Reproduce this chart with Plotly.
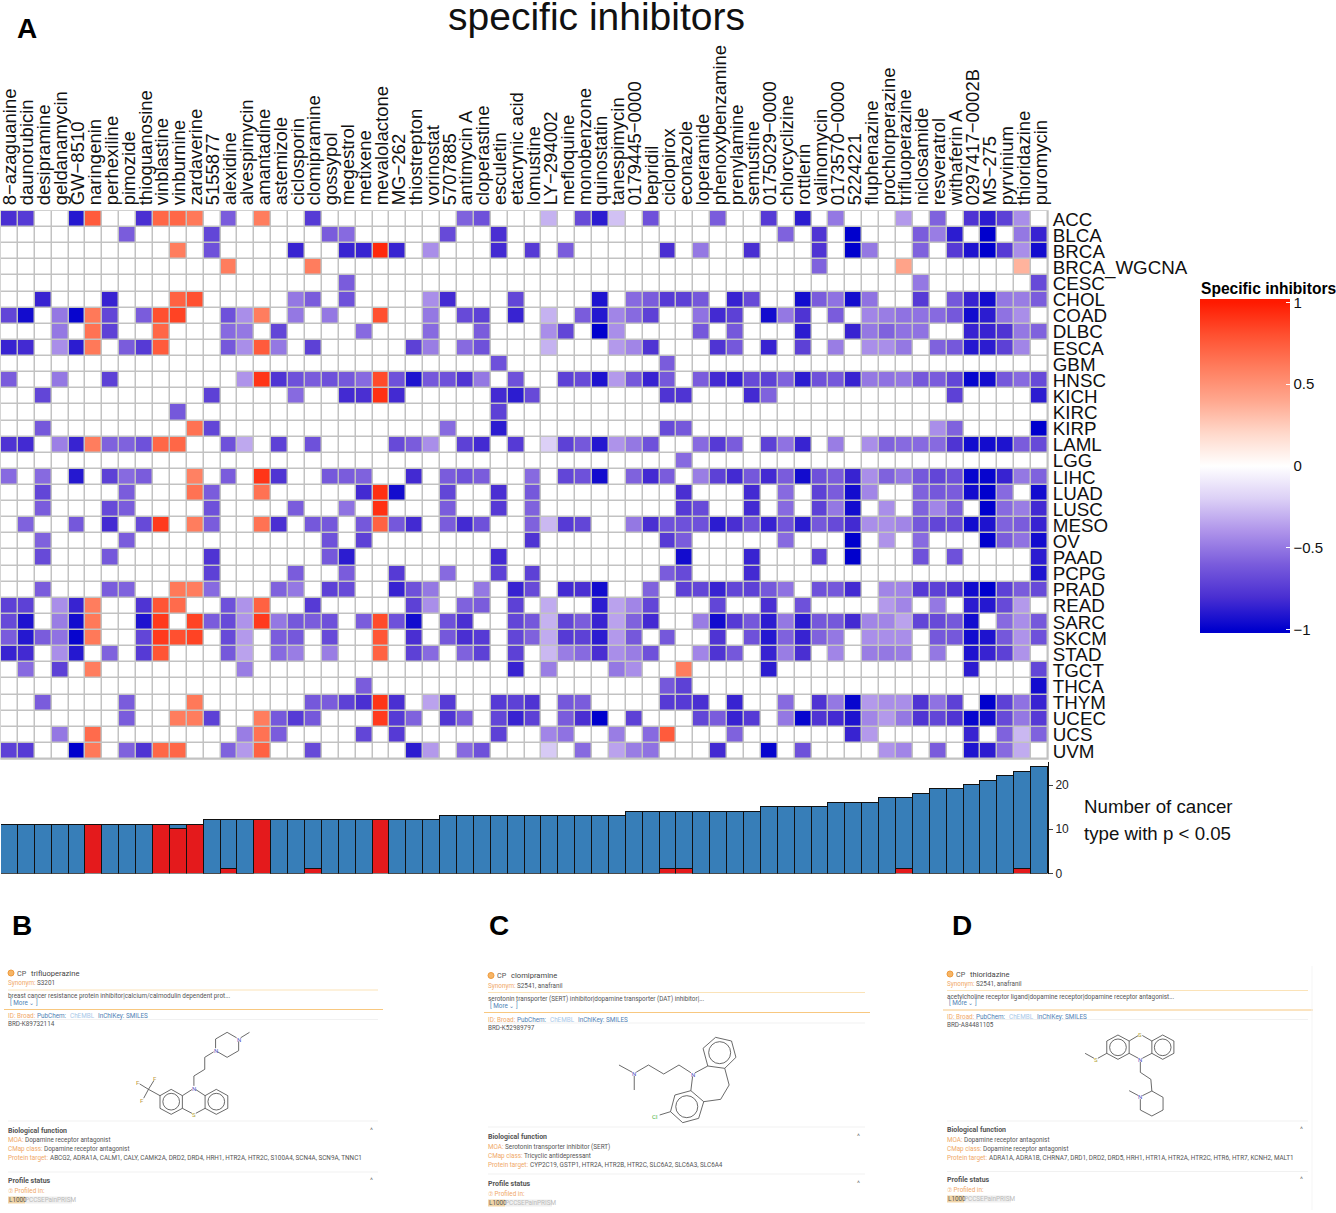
import plotly.graph_objects as go

W, H = 1336, 1213

DRUGS = ["8−azaguanine","daunorubicin","desipramine","geldanamycin","GW−8510","naringenin","perhexiline","pimozide",
"thioguanosine","vinblastine","vinburnine","zardaverine","5155877","alexidine","alvespimycin","amantadine","astemizole",
"ciclosporin","clomipramine","gossypol","megestrol","metixene","mevalolactone","MG−262","thiostrepton","vorinostat",
"5707885","antimycin A","cloperastine","esculetin","etacrynic acid","lomustine","LY−294002","mefloquine","monobenzone",
"quinostatin","tanespimycin","0179445−0000","bepridil","ciclopirox","econazole","loperamide","phenoxybenzamine",
"prenylamine","semustine","0175029−0000","chlorcyclizine","rottlerin","valinomycin","0173570−0000","5224221",
"fluphenazine","prochlorperazine","trifluoperazine","niclosamide","resveratrol","withaferin A","0297417−0002B","MS−275",
"pyrvinium","thioridazine","puromycin"]

CANCERS = ["ACC","BLCA","BRCA","BRCA_WGCNA","CESC","CHOL","COAD","DLBC","ESCA","GBM","HNSC","KICH","KIRC","KIRP","LAML",
"LGG","LIHC","LUAD","LUSC","MESO","OV","PAAD","PCPG","PRAD","READ","SARC","SKCM","STAD","TGCT","THCA","THYM","UCEC","UCS","UVM"]

# correlation per cancer: {drug index: value}; every other cell is blank (not significant)
ACC = {0:-.8,1:-.75,4:-.9,5:.75,8:-.8,9:.7,10:.7,11:.62,13:-.6,15:.6,18:-.75,27:-.58,28:-.65,32:-.3,34:-.68,35:-.88,36:-.25,38:-.65,42:-.6,45:-.75,47:-.88,49:-.5,53:-.38,55:-.58,57:-.78,58:-.88,59:-.72,60:-.42}
BLCA = {7:-.6,12:-.7,19:-.6,20:-.55,26:-.68,29:-.8,46:-.58,48:-.78,50:-1,54:-.6,55:-.48,56:-.88,58:-1,60:-.5,61:-.85}
BRCA = {10:.6,12:-.65,17:-.85,20:-.85,21:-.85,22:.95,23:-.85,25:-.42,29:-.82,31:-.75,33:-.6,39:-.8,41:-.5,44:-.8,48:-.78,50:-1,51:-.5,54:-.58,56:-.75,57:-.92,58:-1,59:-.75,60:-.42,61:-.95}
BRCA_WGCNA = {13:.6,18:.6,48:-.58,53:.42,60:.35}
CESC = {20:-.6,54:-.5,61:-.68}
CHOL = {2:-.85,6:-.85,10:.72,11:.8,17:-.5,18:-.6,20:-.65,25:-.42,26:-.82,30:-.7,35:-.92,37:-.55,38:-.6,39:-.75,40:-.72,41:-.62,43:-.85,44:-.68,47:-.95,48:-.6,49:-.52,50:-.95,51:-.52,54:-.75,56:-.62,57:-.85,58:-.95,59:-.5,60:-.48,61:-.6}
COAD = {0:-.7,1:-.95,3:-.5,4:-.98,5:.62,6:-.7,8:-.6,9:.8,10:.85,13:-.65,14:-.42,15:.6,17:-.5,19:-.5,22:.8,25:-.5,27:-.68,28:-.72,30:-.85,32:-.3,34:-.6,35:-.9,36:-.45,37:-.55,38:-.72,41:-.52,42:-.82,43:-.72,45:-.95,46:-.5,47:-.78,49:-.6,51:-.45,52:-.48,53:-.52,54:-.52,55:-.55,56:-.62,57:-.95,58:-.88,59:-.52,60:-.42}
DLBC = {3:-.5,5:.65,6:-.72,9:.7,13:-.55,14:-.5,16:-.7,21:-.55,25:-.55,28:-.6,32:-.42,33:-.7,35:-1,36:-.42,41:-.62,43:-.62,47:-.88,50:-.85,51:-.5,52:-.58,53:-.52,54:-.52,57:-.85,58:-.85,59:-.78,60:-.5,61:-.58}
ESCA = {0:-.85,1:-.82,3:-.42,4:-.88,5:.62,7:-.6,8:-.75,9:.75,13:-.62,14:-.42,15:.75,16:-.5,18:-.72,24:-.72,25:-.48,27:-.55,28:-.65,32:-.3,36:-.38,37:-.45,38:-.78,42:-.78,43:-.62,45:-.85,47:-.72,49:-.48,51:-.42,52:-.42,53:-.5,55:-.58,56:-.62,57:-.9,58:-.88,59:-.72,60:-.45}
GBM = {29:-.65,39:-.6}
HNSC = {0:-.6,3:-.5,6:-.72,14:-.4,15:.9,16:-.78,17:-.65,18:-.6,19:-.65,20:-.62,21:-.55,22:.82,23:-.65,24:-.92,25:-.62,26:-.65,27:-.78,28:-.5,30:-.65,33:-.72,34:-.68,35:-.92,36:-.38,37:-.62,38:-.85,39:-.62,41:-.6,42:-.82,43:-.85,44:-.68,45:-.72,46:-.58,47:-.88,48:-.65,49:-.62,50:-.85,51:-.5,52:-.52,53:-.5,54:-.62,55:-.6,56:-.7,57:-.98,58:-.95,59:-.62,60:-.55,61:-.68}
KICH = {2:-.7,12:-.72,17:-.55,20:-.82,21:-.8,22:.92,23:-.82,29:-.82,30:-.88,31:-.68,39:-.78,40:-.78,44:-.82,45:-.58,56:-.72,61:-.88}
KIRC = {10:-.62,29:-.72}
KIRP = {2:-.62,11:.65,12:-.7,26:-.55,29:-.88,39:-.68,40:-.62,55:-.42,56:-.58,61:-1}
LAML = {0:-.78,1:-.82,3:-.47,4:-.85,5:.6,6:-.58,7:-.58,8:-.65,9:.7,10:.7,13:-.65,14:-.33,16:-.72,18:-.65,23:-.68,24:-.6,25:-.42,27:-.72,28:-.82,30:-.75,32:-.2,33:-.72,34:-.62,35:-.9,36:-.4,37:-.5,38:-.65,41:-.55,42:-.75,43:-.6,45:-.72,46:-.52,47:-.85,49:-.48,51:-.42,52:-.58,53:-.55,54:-.55,55:-.55,56:-.78,57:-.95,58:-.95,59:-.92,60:-.6,61:-.68}
LGG = {40:-.55}
LIHC = {0:-.55,2:-.55,4:-.9,6:-.72,7:-.55,8:-.6,11:.58,13:-.6,15:.9,16:-.78,19:-.62,20:-.6,21:-.58,24:-.82,26:-.6,27:-.65,28:-.6,31:-.55,33:-.7,34:-.65,35:-.95,37:-.58,38:-.82,39:-.6,41:-.48,42:-.72,43:-.82,44:-.62,45:-.82,46:-.6,47:-.95,48:-.65,49:-.6,50:-.85,51:-.42,52:-.58,53:-.5,54:-.62,55:-.7,56:-.65,57:-.98,58:-.98,59:-.85,60:-.5,61:-.58}
LUAD = {2:-.7,7:-.6,11:.65,12:-.6,15:.65,21:-.82,22:.92,23:-.95,26:-.7,29:-.8,31:-.62,40:-.8,44:-.82,46:-.55,48:-.72,49:-.6,50:-.95,51:-.45,54:-.58,55:-.62,56:-.6,57:-.95,58:-1,59:-.55,61:-.95}
LUSC = {2:-.6,6:-.68,7:-.6,12:-.65,17:-.6,20:-.52,22:.92,26:-.6,29:-.75,31:-.58,40:-.75,41:-.68,44:-.82,46:-.55,48:-.72,49:-.5,50:-.95,52:-.42,54:-.58,55:-.45,56:-.6,58:-1,59:-.55,60:-.48,61:-.82}
MESO = {1:-.58,4:-.62,6:-.82,8:-.68,9:.88,11:.6,12:-.6,15:.65,16:-.8,18:-.62,19:-.62,21:-.62,22:.72,23:-.62,24:-.82,26:-.6,27:-.82,28:-.65,31:-.58,32:-.28,33:-.75,34:-.7,37:-.5,38:-.8,39:-.65,40:-.65,41:-.65,42:-.88,43:-.8,44:-.65,45:-.85,46:-.65,47:-.88,48:-.62,49:-.68,50:-.82,51:-.42,52:-.42,53:-.45,54:-.62,55:-.7,56:-.68,57:-.95,58:-.92,59:-.58,60:-.6,61:-.85}
OV = {2:-.58,7:-.6,19:-.65,21:-.72,31:-.78,39:-.75,40:-.6,46:-.55,50:-1,52:-.4,54:-.55,58:-1,59:-.6,60:-.52,61:-.95}
PAAD = {2:-.68,6:-.62,12:-.78,19:-.62,20:-.88,29:-.82,40:-.95,44:-.85,48:-.72,50:-1,54:-.65,56:-.65,61:-.88}
PCPG = {12:-.72,17:-.6,20:-.6,23:-.75,26:-.55,29:-.72,31:-.72,39:-.6,40:-.68,44:-.82,61:-.92}
PRAD = {2:-.6,6:-.6,7:-.58,10:.62,11:.6,12:-.55,16:-.58,17:-.5,19:-.72,20:-.68,23:-.85,24:-.65,25:-.5,28:-.5,30:-.85,31:-.68,33:-.82,34:-.8,35:-.95,38:-.58,40:-.72,41:-.7,42:-.85,43:-.7,44:-.72,45:-.62,46:-.52,48:-.65,49:-.62,50:-.82,52:-.45,53:-.45,54:-.75,55:-.72,56:-.78,57:-.95,58:-1,59:-.72,60:-.6,61:-.68}
READ = {0:-.72,1:-.72,3:-.42,4:-.85,5:.6,8:-.78,9:.78,10:.68,13:-.65,14:-.4,15:.72,18:-.75,24:-.72,25:-.42,27:-.58,28:-.6,30:-.72,32:-.32,35:-.88,36:-.35,37:-.45,38:-.7,42:-.7,45:-.8,47:-.65,52:-.38,53:-.45,55:-.5,57:-.88,58:-.9,59:-.68,60:-.38}
SARC = {0:-.68,1:-.92,3:-.48,4:-.95,5:.62,8:-.92,9:.88,11:.85,12:-.6,13:-.68,14:-.4,15:.88,16:-.5,17:-.62,18:-.6,19:-.65,21:-.6,22:.82,23:-.65,24:-.95,26:-.65,27:-.8,30:-.7,31:-.62,32:-.3,33:-.7,34:-.6,35:-.85,36:-.35,37:-.58,38:-.82,41:-.48,42:-.95,43:-.75,44:-.62,45:-.88,46:-.5,47:-.88,48:-.62,49:-.62,50:-.82,51:-.45,52:-.45,53:-.35,54:-.7,55:-.68,56:-.62,57:-.95,59:-.55,60:-.42,61:-.62}
SKCM = {0:-.6,1:-.9,2:-.6,3:-.52,4:-.98,5:.62,8:-.7,9:.88,10:.8,11:.85,13:-.68,14:-.38,16:-.6,17:-.62,19:-.68,22:.78,24:-.8,26:-.62,27:-.8,28:-.75,30:-.7,31:-.58,32:-.32,33:-.75,34:-.72,35:-.88,36:-.38,37:-.62,39:-.62,42:-.78,44:-.65,45:-.9,46:-.58,47:-.85,48:-.58,49:-.5,51:-.42,52:-.42,53:-.42,55:-.62,56:-.62,57:-.95,58:-.92,59:-.62,60:-.4,61:-.65}
STAD = {0:-.85,1:-.82,3:-.42,4:-.9,6:-.58,8:-.75,9:.78,13:-.62,14:-.35,16:-.55,17:-.48,19:-.48,22:.72,24:-.72,25:-.55,27:-.58,28:-.72,30:-.72,32:-.28,33:-.48,34:-.55,35:-.8,36:-.42,37:-.48,38:-.65,41:-.45,42:-.78,43:-.62,45:-.85,46:-.48,47:-.8,49:-.45,51:-.48,52:-.5,53:-.48,55:-.5,57:-.92,58:-.85,59:-.72,60:-.4}
TGCT = {1:-.55,3:-.72,5:.6,14:-.48,30:-.85,32:-.48,36:-.5,37:-.42,40:.6,45:-.88,57:-.88,61:-.7}
THCA = {21:-.6,39:-.62,40:-.72,61:-.95}
THYM = {2:-.6,7:-.6,11:.62,18:-.62,19:-.6,20:-.72,21:-.8,22:.9,23:-.8,25:-.35,26:-.75,29:-.75,30:-.72,31:-.78,33:-.62,34:-.6,39:-.75,40:-.75,41:-.8,43:-.85,46:-.55,48:-.78,49:-.5,50:-.98,51:-.38,52:-.42,53:-.42,54:-.78,55:-.52,56:-.72,58:-1,59:-.72,60:-.52,61:-.85}
UCEC = {7:-.6,10:.6,11:.6,12:-.72,15:.6,16:-.62,17:-.75,18:-.62,22:.88,23:-.75,24:-.58,26:-.78,27:-.6,29:-.7,30:-.85,31:-.72,33:-.6,34:-.8,35:-1,37:-.72,41:-.7,42:-.6,43:-.85,44:-.75,46:-.5,47:-.98,48:-.78,49:-.82,50:-.92,51:-.45,52:-.38,53:-.5,54:-.78,55:-.7,56:-.78,57:-.98,58:-.95,59:-.68,60:-.5,61:-.75}
UCS = {3:-.5,5:.68,14:-.48,15:.65,16:-.6,21:-.7,23:-.75,29:-.72,32:-.45,33:-.52,36:-.48,38:-.55,39:.75,43:-.58,50:-.85,51:-.38,57:-.85,59:-.58,60:-.28,61:-.58}
UVM = {0:-.72,1:-.75,4:-1,5:.62,7:-.58,8:-.78,9:.7,10:.7,13:-.58,14:-.38,15:.72,18:-.68,24:-.88,25:-.38,27:-.55,28:-.65,32:-.22,34:-.55,36:-.35,37:-.48,38:-.52,42:-.82,45:-.98,47:-.65,52:-.4,53:-.45,55:-.6,57:-.92,58:-.88,59:-.55,60:-.32}

ROWS = [ACC,BLCA,BRCA,BRCA_WGCNA,CESC,CHOL,COAD,DLBC,ESCA,GBM,HNSC,KICH,KIRC,KIRP,LAML,LGG,LIHC,LUAD,LUSC,MESO,OV,PAAD,PCPG,PRAD,READ,SARC,SKCM,STAD,TGCT,THCA,THYM,UCEC,UCS,UVM]

# bar panel: number of cancer types per drug
TOTAL_COUNT = [11]*12 + [12]*14 + [13]*11 + [14]*8 + [15]*4 + [16]*3 + [17,17,18,19,19,20,21,22,23,24]
POSITIVE_COUNT = [0,0,0,0,0,11,0,0,0,11,10,11,0,1,0,12,0,0,1,0,0,0,12,0,0,0,0,0,0,0,0,0,0,0,0,0,0,0,0,1,1,0,0,0,0,0,0,0,0,0,0,0,0,1,0,0,0,0,0,0,1,0]
NEGATIVE_COUNT = [t-p for t,p in zip(TOTAL_COUNT, POSITIVE_COUNT)]

z = [[r.get(i, 0) for i in range(len(DRUGS))] for r in ROWS]

ZL = 1.02
def stop(v): return (v+ZL)/(2*ZL)
COLORSCALE = [[0,"#0000cd"]] + [[stop(v),c] for v,c in [(-1,"#0000cd"),(-.8,"#4a2fd2"),(-.6,"#7a5cdc"),(-.4,"#ae93ea"),(-.2,"#dcd0f6"),(0,"#ffffff"),(.2,"#ffd8ca"),(.4,"#ffa78e"),(.6,"#ff7d5e"),(.8,"#ff5030"),(1,"#ff1a00")]] + [[1,"#ff1a00"]]

def px(x): return x/W
def py(y): return 1-y/H

LX0, LX1 = 1, 1048
HT, HB = 211, 759

fig = go.Figure()
fig.add_trace(go.Heatmap(z=z, x=DRUGS, y=CANCERS, xaxis="x", yaxis="y", xgap=1.5, ygap=1.5, zmin=-ZL, zmax=ZL,
    colorscale=COLORSCALE,
    colorbar=dict(x=px(1200), xanchor="left", xpad=0, ypad=0, y=py(299), yanchor="top", len=334/H, lenmode="fraction",
                  thickness=90, thicknessmode="pixels", outlinewidth=0,
                  tickvals=[-1,-.5,0,.5,1], ticktext=["−1","−0.5","0","0.5","1"], ticks="inside", tickcolor="white",
                  ticklen=4, tickwidth=1, tickfont=dict(family="Liberation Sans", size=15, color="#111"))))
fig.add_trace(go.Bar(x=DRUGS, y=POSITIVE_COUNT, xaxis="x2", yaxis="y2", marker=dict(color="#e41a1c", line=dict(color="#111", width=1.3))))
fig.add_trace(go.Bar(x=DRUGS, y=NEGATIVE_COUNT, xaxis="x2", yaxis="y2", marker=dict(color="#377eb8", line=dict(color="#111", width=1.3))))

shapes, ann = [], []

def txt(x, y, s, size=7, color="#555", bold=False, anchor="left", family="Roboto"):
    if anchor == "left":
        x -= 1
    ann.append(dict(x=px(x), y=py(y), xref="paper", yref="paper", text=f"<b>{s}</b>" if bold else s, showarrow=False,
                    xanchor=anchor, yanchor="middle", borderpad=0, font=dict(family=family, size=size, color=color)))

def line(x0, y0, x1, y1, color="#444", width=0.8):
    shapes.append(dict(type="line", xref="paper", yref="paper", x0=px(x0), y0=py(y0), x1=px(x1), y1=py(y1),
                       line=dict(color=color, width=width)))

def rect(x0, y0, x1, y1, fill, layer="above"):
    shapes.append(dict(type="rect", xref="paper", yref="paper", x0=px(x0), y0=py(y0), x1=px(x1), y1=py(y1),
                       fillcolor=fill, line=dict(width=0), layer=layer))

def circle(cx, cy, r, color="#444", width=0.8, fill=None):
    shapes.append(dict(type="circle", xref="paper", yref="paper", x0=px(cx-r), y0=py(cy-r), x1=px(cx+r), y1=py(cy+r),
                       line=dict(color=color, width=width), fillcolor=fill or "rgba(0,0,0,0)"))

rect(LX0-0.7, HT-0.7, LX1+0.7, HB+0.7, "#c2c2c2", layer="below")

SANS = "Liberation Sans"
txt(596, 16, "specific inhibitors", 39, "#111", anchor="center", family=SANS)
txt(17, 29, "A", 28, "#000", True, family=SANS)
txt(12, 925, "B", 28, "#000", True, family=SANS)
txt(489, 925, "C", 28, "#000", True, family=SANS)
txt(952, 925, "D", 28, "#000", True, family=SANS)
txt(1201, 288, "Specific inhibitors", 15.6, "#000", True, family=SANS)
txt(1084, 806, "Number of cancer", 18.7, "#111", family=SANS)
txt(1084, 833, "type with p &lt; 0.05", 18.7, "#111", family=SANS)

ORANGE, BLUE, LBLUE, GRAY = "#f0a868", "#4f7fb5", "#a8c8e8", "#555"
FS = 6.35

def card(x, ys, xr, name, syn, desc, brd, moa, cmap, target):
    y_title, y_syn, y_l1, y_desc, y_more, y_l2, y_id, y_l3, y_brd, y_sep, y_bio, y_moa, y_cmap, y_tar, y_l4, y_prof, y_in, y_l1000 = ys
    circle(x+3, y_title, 3, color="#ef9a3c", width=1, fill="#f6b566")
    txt(x+9, y_title, "CP", 7.2, GRAY)
    txt(x+23, y_title, name, 7.6, "#444")
    txt(x, y_syn, "Synonym:", FS, ORANGE)
    txt(x+29, y_syn, syn, FS, GRAY)
    line(x, y_l1, xr-5, y_l1, "#fbe3b8", 1)
    txt(x, y_desc, desc, FS, GRAY)
    txt(x+2, y_more, "[ More ⌄ ]", FS, BLUE)
    line(x-4, y_l2, xr, y_l2, "#f8c880", 1.2)
    txt(x, y_id, "ID: Broad:", FS, ORANGE)
    txt(x+29, y_id, "PubChem:", FS, BLUE)
    txt(x+62, y_id, "ChEMBL", FS, LBLUE)
    txt(x+90, y_id, "InChIKey:", FS, BLUE)
    txt(x+118, y_id, "SMILES", FS, BLUE)
    line(x, y_l3, xr-5, y_l3, "#eeeeee", 0.8)
    txt(x, y_brd, brd, FS, GRAY)
    line(x, y_sep, xr-5, y_sep, "#eeeeee", 0.8)
    txt(x, y_bio, "Biological function", 7, "#555", True)
    txt(xr-13, y_bio, "^", 7, "#777")
    txt(x, y_moa, "MOA:", FS, ORANGE)
    txt(x+17, y_moa, moa, FS, GRAY)
    txt(x, y_cmap, "CMap class:", FS, ORANGE)
    txt(x+36, y_cmap, cmap, FS, GRAY)
    txt(x, y_tar, "Protein target:", FS, ORANGE)
    txt(x+42, y_tar, target, FS, GRAY)
    line(x, y_l4, xr-5, y_l4, "#eeeeee", 0.8)
    txt(x, y_prof, "Profile status", 7, "#555", True)
    txt(xr-13, y_prof, "^", 7, "#777")
    txt(x, y_in, "⑦ Profiled in:", FS, ORANGE)
    rect(x, y_l1000-3.5, x+17, y_l1000+3.5, "#f0d5a8")
    rect(x+17, y_l1000-3.5, x+64, y_l1000+3.5, "#f0f0f0")
    txt(x+1, y_l1000, "L1000", FS, "#555")
    txt(x+17, y_l1000, "PCCSEPainPRISM", FS, "#bbbbbb")

card(8, [973,983.5,990,995.5,1002,1009.5,1016,1019.5,1024,1121,1130.5,1140,1149,1158,1172,1181,1191,1200], 383,
     "trifluoperazine", "S3201", "breast cancer resistance protein inhibitor|calcium/calmodulin dependent prot...", "BRD-K89732114",
     "Dopamine receptor antagonist", "Dopamine receptor antagonist",
     "ABCG2, ADRA1A, CALM1, CALY, CAMK2A, DRD2, DRD4, HRH1, HTR2A, HTR2C, S100A4, SCN4A, SCN9A, TNNC1")
card(488, [975.5,986,992.5,998.5,1005,1012.5,1019.5,1023,1028,1127,1137,1147,1156,1165,1174,1183.5,1193.5,1203], 870,
     "clomipramine", "S2541, anafranil", "serotonin transporter (SERT) inhibitor|dopamine transporter (DAT) inhibitor|...", "BRD-K52989797",
     "Serotonin transporter inhibitor (SERT)", "Tricyclic antidepressant",
     "CYP2C19, GSTP1, HTR2A, HTR2B, HTR2C, SLC6A2, SLC6A3, SLC6A4")
card(947, [974,984,990.5,996.5,1003,1010,1016.5,1019.5,1025,1121,1130,1140,1149,1157.5,1171.5,1180,1190,1199], 1313,
     "thioridazine", "S2541, anafranil", "acetylcholine receptor ligand|dopamine receptor|dopamine receptor antagonist...", "BRD-A84481105",
     "Dopamine receptor antagonist", "Dopamine receptor antagonist",
     "ADRA1A, ADRA1B, CHRNA7, DRD1, DRD2, DRD5, HRH1, HTR1A, HTR2A, HTR2C, HTR6, HTR7, KCNH2, MALT1")
line(1312, 966, 1312, 1210, "#f2f2f2", 0.8)

# chemical structures, traced in crop coordinates
def mol(ox, oy, bonds, rings, labels):
    X = lambda v: ox + v/2.95
    Y = lambda v: oy + v/3
    for pts in bonds:
        for a, b in zip(pts[:-1], pts[1:]):
            line(X(a[0]), Y(a[1]), X(b[0]), Y(b[1]))
    for cx, cy, r in rings:
        circle(X(cx), Y(cy), r/3)
    for lx, ly, s, c in labels:
        rect(X(lx)-2, Y(ly)-2.5, X(lx)+2, Y(ly)+2.5, "#ffffff")
        txt(X(lx), Y(ly), s, 6, c, anchor="center")

NBLUE, SOL, FOL = "#5555c0", "#b0a030", "#c09a40"
mol(0, 960,
    [[(636,272),(636,237),(670,217),(704,237),(704,272),(670,292),(636,272)], [(704,237),(736,217)],
     [(636,272),(604,292),(604,328),(572,348),(572,385)],
     [(505,388),(538,407),(538,445),(505,463),(472,445),(472,407),(505,388)],
     [(605,407),(638,388),(672,407),(672,445),(638,463),(605,445),(605,407)],
     [(538,407),(572,385),(605,407)], [(538,445),(572,463),(605,445)],
     [(472,407),(438,388),(458,355)], [(438,388),(406,368)], [(438,388),(420,422)]],
    [(505,425,25),(638,425,25)],
    [(636,272,"N",NBLUE),(704,237,"N",NBLUE),(572,385,"N",NBLUE),(572,463,"S",SOL),(458,355,"F",FOL),(406,368,"F",FOL),(420,422,"F",FOL)])
mol(480, 960,
    [[(410,315),(455,340),(497,315),(542,342),(587,315),(628,342),(672,318)], [(455,340),(455,390)],
     [(658,265),(695,232),(742,243),(755,292),(722,325),(672,318),(658,265)],
     [(722,325),(735,375),(710,418),(660,425)],
     [(622,392),(575,405),(562,455),(598,488),(645,475),(660,425),(622,392)], [(628,342),(622,392)], [(562,455),(530,465)]],
    [(707,278,33),(610,440,33)],
    [(455,340,"N",NBLUE),(628,342,"N",NBLUE),(516,468,"Cl","#40b040")])
mol(940, 960,
    [[(525,225),(558,243),(558,280),(525,298),(492,280),(492,243),(525,225)],
     [(625,243),(657,225),(690,243),(690,280),(657,298),(625,280),(625,243)],
     [(558,243),(591,223),(625,243)], [(558,280),(591,298),(625,280)],
     [(492,280),(460,298),(428,280)], [(591,298),(591,337),(622,358),(625,393)],
     [(625,393),(658,412),(658,450),(625,468),(591,450),(591,410),(625,393)], [(591,410),(558,392)]],
    [(525,262,25),(657,262,25)],
    [(591,223,"S",SOL),(591,298,"N",NBLUE),(460,298,"S",SOL),(591,410,"N",NBLUE)])

XDOM = [px(LX0), px(LX1)]
CLEAR = "rgba(0,0,0,0)"
fig.update_layout(
    width=W, height=H, margin=dict(l=0, r=0, t=0, b=0), autosize=False, showlegend=False,
    paper_bgcolor="white", plot_bgcolor=CLEAR, barmode="stack", bargap=0,
    font=dict(family=SANS, color="#111"),
    shapes=shapes, annotations=ann,
    xaxis=dict(domain=XDOM, side="top", anchor="y", type="category", tickangle=-90, tickmode="array", tickvals=DRUGS, ticktext=DRUGS,
               ticks="outside", ticklen=1, tickcolor=CLEAR, showgrid=False, zeroline=False, ticklabelshift=1,
               tickfont=dict(family=SANS, size=18.5, color="#111"), automargin=False),
    yaxis=dict(domain=[py(HB), py(HT)], side="right", anchor="x", type="category", autorange="reversed", tickmode="array",
               tickvals=CANCERS, ticktext=CANCERS, ticks="outside", ticklen=0, tickcolor=CLEAR, showgrid=False,
               zeroline=False, tickfont=dict(family=SANS, size=18.8, color="#111"), automargin=False),
    xaxis2=dict(domain=XDOM, anchor="y2", type="category", visible=False),
    yaxis2=dict(domain=[py(873.5), py(762)], anchor="x2", side="right", range=[0, 25.2], tickvals=[0,10,20], ticks="outside", ticklen=4,
                showline=True, linecolor="#111", linewidth=1, showgrid=False, zeroline=False,
                tickfont=dict(family=SANS, size=12, color="#222"), automargin=False),
)

fig.write_html("out.html", config={"displayModeBar": False},
               post_script="document.body.style.margin='0';document.documentElement.style.overflow='hidden';")
